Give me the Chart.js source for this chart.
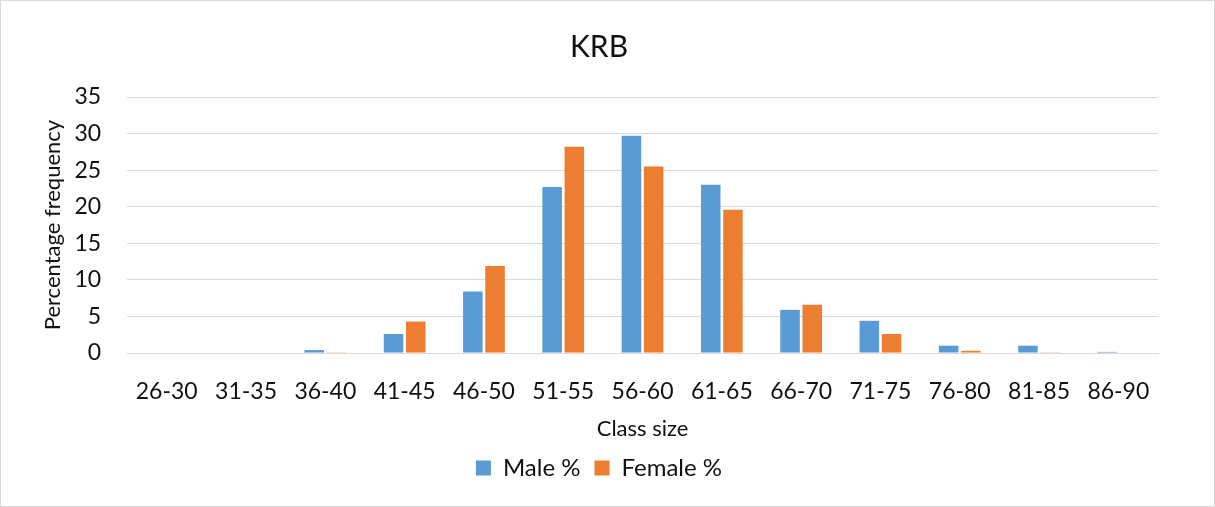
<!DOCTYPE html>
<html>
<head>
<meta charset="utf-8">
<script src="https://cdn.jsdelivr.net/npm/chart.js@4"></script>
<style>
  html, body { margin: 0; padding: 0; background: #fff; }
  #wrap { width: 1213px; height: 505px; border: 1px solid #d9d9d9; position: relative; }
</style>
</head>
<body>
<div id="wrap"><canvas id="krbChart" width="1213" height="505"></canvas></div>
<script>
const categories = ['26-30','31-35','36-40','41-45','46-50','51-55','56-60','61-65','66-70','71-75','76-80','81-85','86-90'];
const maleValues = [0, 0, 0.4, 2.6, 8.4, 22.7, 29.7, 23.0, 5.9, 4.4, 1.0, 1.0, 0.15];
const femaleValues = [0, 0, 0.1, 4.3, 11.9, 28.2, 25.5, 19.6, 6.6, 2.6, 0.3, 0.1, 0];
const yTicks = [0, 5, 10, 15, 20, 25, 30, 35];

const font = "Lato, 'Open Sans', sans-serif";
const textColor = '#111';
const ctx = document.getElementById('krbChart').getContext('2d');

new Chart(ctx, {
  type: 'bar',
  data: {
    labels: categories,
    datasets: [
      { label: 'Male %', data: maleValues, backgroundColor: '#5b9bd5', categoryPercentage: 0.56, barPercentage: 0.88 },
      { label: 'Female %', data: femaleValues, backgroundColor: '#ed7d31', categoryPercentage: 0.56, barPercentage: 0.88 }
    ]
  },
  options: {
    responsive: false,
    animation: false,
    layout: { padding: { left: 39, right: 56, top: 10, bottom: 16 } },
    plugins: {
      title: { display: true, text: 'KRB', color: textColor, font: { family: font, size: 30, weight: 'normal' }, padding: { top: 18, bottom: 32 } },
      legend: {
        position: 'bottom',
        labels: { color: textColor, font: { family: font, size: 24 }, boxWidth: 15, boxHeight: 15, padding: 14 }
      },
      tooltip: { enabled: false }
    },
    scales: {
      x: {
        grid: { display: false, drawTicks: false },
        border: { color: '#d9d9d9' },
        ticks: { color: textColor, font: { family: font, size: 23 }, padding: 25, maxRotation: 0 },
        title: { display: true, text: 'Class size', color: textColor, font: { family: font, size: 22 }, padding: { top: -15, bottom: 0 } }
      },
      y: {
        min: 0, max: 35,
        afterBuildTicks: axis => { axis.ticks = yTicks.map(v => ({ value: v })); },
        grid: { color: '#d9d9d9', drawTicks: false },
        border: { display: false },
        ticks: { color: textColor, font: { family: font, size: 23 }, padding: 26 },
        title: { display: true, text: 'Percentage frequency', color: textColor, font: { family: font, size: 22 }, padding: { top: 0, bottom: -18 } }
      }
    }
  }
});
</script>
</body>
</html>
